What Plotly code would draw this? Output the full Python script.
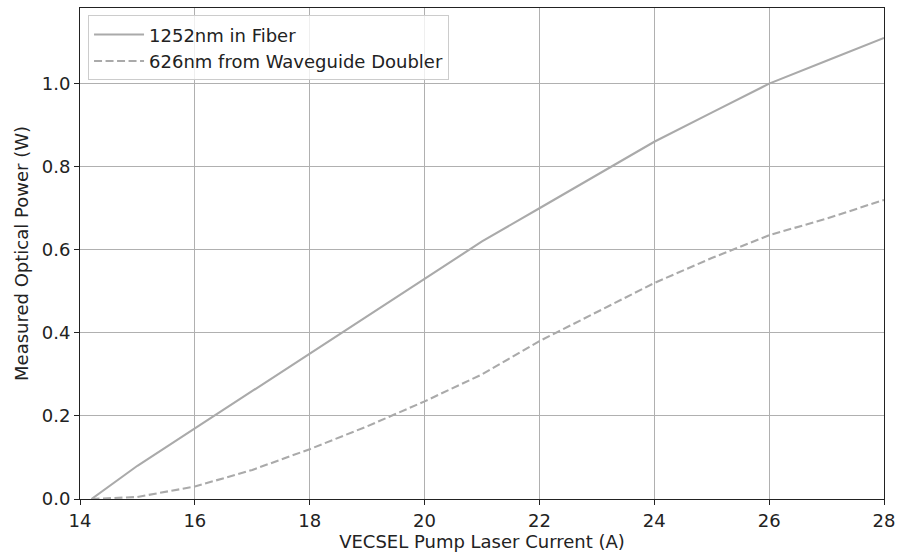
import plotly.graph_objects as go

current_a = [14.2, 15, 16, 17, 18, 19, 20, 21, 22, 23, 24, 25, 26, 27, 28]
fiber_1252_w = [0.0, 0.08, 0.17, 0.26, 0.35, 0.44, 0.53, 0.62, 0.70, 0.78, 0.86, 0.93, 1.00, 1.055, 1.11]
doubler_626_w = [0.0, 0.005, 0.03, 0.07, 0.12, 0.175, 0.235, 0.30, 0.38, 0.45, 0.52, 0.58, 0.635, 0.675, 0.72]

x_ticks = [14, 16, 18, 20, 22, 24, 26, 28]
y_ticks = [0.0, 0.2, 0.4, 0.6, 0.8, 1.0]

font = "DejaVu Sans"
fs = 18
fig = go.Figure()
fig.add_trace(go.Scatter(x=current_a, y=fiber_1252_w, mode="lines", name="1252nm in Fiber",
                         line=dict(color="#aaaaaa", width=2.1)))
fig.add_trace(go.Scatter(x=current_a, y=doubler_626_w, mode="lines", name="626nm from Waveguide Doubler",
                         line=dict(color="#aaaaaa", width=2.1, dash="8px,3.5px")))

axis_common = dict(showline=True, linecolor="#222222", linewidth=1.1, mirror=True,
                   showgrid=True, gridcolor="#b0b0b0", gridwidth=1.1,
                   ticks="outside", ticklen=5, tickcolor="#222222",
                   tickfont=dict(family=font, size=fs, color="#222222"),
                   zeroline=False, automargin=False)
fig.update_xaxes(range=[14, 28], tickvals=x_ticks, ticktext=[str(v) for v in x_ticks],
                 title=dict(text="VECSEL Pump Laser Current (A)", font=dict(family=font, size=fs, color="#222222"), standoff=4),
                 **axis_common)
fig.update_yaxes(range=[0, 1.182], tickvals=y_ticks, ticktext=[f"{v:.1f}" for v in y_ticks],
                 title=dict(text="Measured Optical Power (W)", font=dict(family=font, size=fs, color="#222222"), standoff=8),
                 **axis_common)
fig.update_layout(width=898, height=556, margin=dict(l=80, r=14, t=8, b=57),
                  plot_bgcolor="white", paper_bgcolor="white",
                  font=dict(family=font, size=fs, color="#222222"),
                  legend=dict(x=0.01, y=0.985, xanchor="left", yanchor="top",
                              bgcolor="rgba(255,255,255,0.8)", bordercolor="#cccccc", borderwidth=1,
                              itemwidth=50,
                              font=dict(family=font, size=fs, color="#222222"), tracegroupgap=0),
                  showlegend=True)
fig.write_html("out.html")
